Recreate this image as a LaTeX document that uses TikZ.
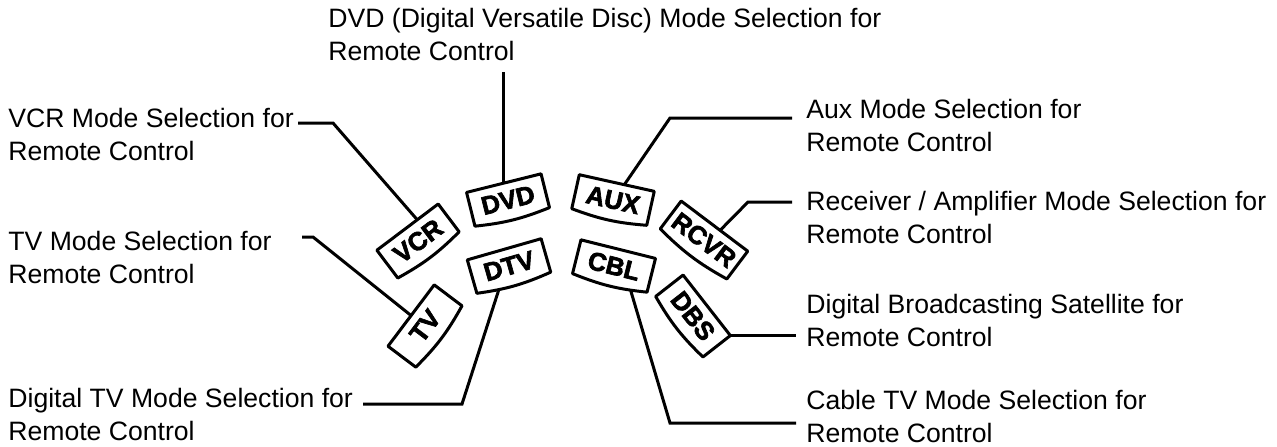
\documentclass[tikz,border=0pt]{standalone}
\usepackage{fontspec}
\setmainfont{Liberation Sans}
\newfontfamily\btnfont[FakeBold=2.5]{Liberation Sans Bold}
\usetikzlibrary{positioning}

\tikzset{
  btn/.style={inner xsep=2.5pt, inner ysep=0pt, minimum width=38pt, minimum height=17pt,
    font=\btnfont\fontsize{12.8}{12.8}\selectfont},
  btnline/.style={line width=1.5pt, line join=round},
  lbl/.style={anchor=north west, inner sep=0pt, align=left,
    font=\fontsize{13.3}{16.3}\selectfont},
  wire/.style={line width=1.5pt}
}

\begin{document}
\begin{tikzpicture}[x=0.5pt,y=-0.5pt]
\useasboundingbox (0,0) rectangle (1277,446);
% buttons
\node[btn,rotate=37] (vcr) at (418,241) {VCR};
\node[btn,rotate=14] (dvd) at (508,200) {DVD};
\node[btn,rotate=-12.5] (aux) at (613,200) {AUX};
\node[btn,rotate=-37] (rcvr) at (704,240) {RCVR};
\node[btn,rotate=53] (tv) at (425,326) {TV};
\node[btn,rotate=16] (dtv) at (509,266) {DTV};
\node[btn,rotate=-14] (cbl) at (614,266) {CBL};
\node[btn,rotate=-52] (dbs) at (693,316) {DBS};
\foreach \b in {vcr,dvd,aux,rcvr,tv,dtv,cbl,dbs}
  \draw[btnline] (\b.north west) -- (\b.north east) -- (\b.south east)
    to[bend left=8] (\b.south west) -- cycle;
% labels
\node[lbl] (dvdtxt) at (328,8) {DVD (Digital Versatile Disc) Mode Selection for\\Remote Control};
\node[lbl] (vcrtxt) at (8,108) {VCR Mode Selection for\\Remote Control};
\node[lbl] (tvtxt) at (8,231) {TV Mode Selection for\\Remote Control};
\node[lbl] (dtvtxt) at (8,388) {Digital TV Mode Selection for\\Remote Control};
\node[lbl] (auxtxt) at (806,99) {Aux Mode Selection for\\Remote Control};
\node[lbl] (rcvrtxt) at (806,191) {Receiver / Amplifier Mode Selection for\\Remote Control};
\node[lbl] (dbstxt) at (806,294) {Digital Broadcasting Satellite for\\Remote Control};
\node[lbl] (cbltxt) at (806,390) {Cable TV Mode Selection for\\Remote Control};
% wires
\coordinate (vcrk) at (333,123);
\coordinate (vcrend) at (298,123);
\coordinate (tvk) at (313,237);
\coordinate (tvend) at (302,237);
\coordinate (dtvk) at (462,404);
\coordinate (dtvend) at (363,404);
\coordinate (auxk) at (670,118);
\coordinate (rcvrk) at (748,202);
\coordinate (cblk) at (670,423);
\draw[wire,shorten >=5.5pt] (dvd.north) -- (dvd.north |- dvdtxt.south);
\draw[wire] (vcr.55) -- (vcrk) -- (vcrend);
\draw[wire] (tv.north) -- (tvk) -- (tvend);
\draw[wire,shorten <=1.4pt] (dtv.-130) -- (dtvk) -- (dtvend);
\draw[wire,shorten >=7pt] (aux.66) -- (auxk) -- (auxk -| auxtxt.west);
\draw[wire,shorten >=7pt] (rcvr.68) -- (rcvrk) -- (rcvrk -| rcvrtxt.west);
\draw[wire,shorten >=5pt] (dbs.north east) -- (dbs.north east -| dbstxt.west);
\draw[wire,shorten <=1.4pt,shorten >=5pt] (cbl.-40) -- (cblk) -- (cblk -| cbltxt.west);
\end{tikzpicture}
\end{document}
